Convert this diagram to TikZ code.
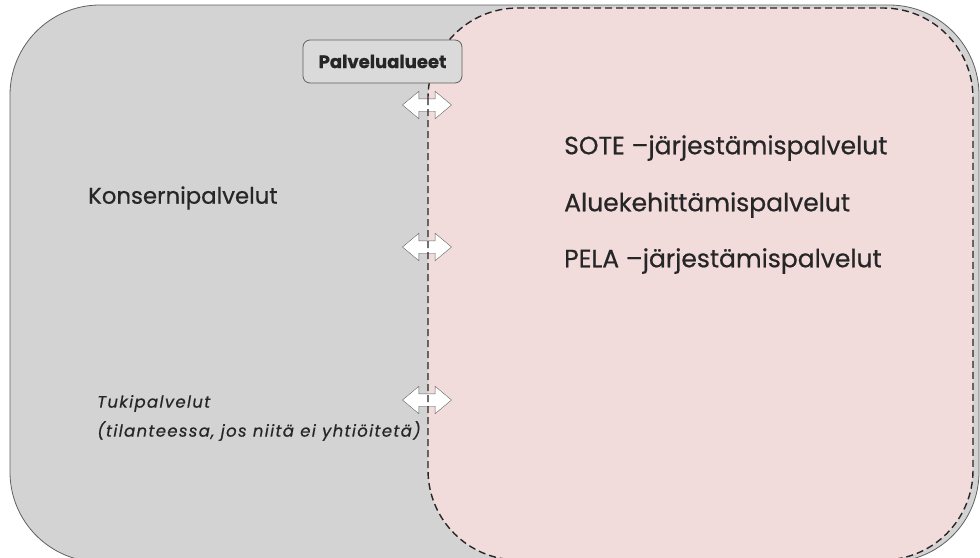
\documentclass[tikz,border=0pt]{standalone}
\usepackage{fontspec}
\setmainfont{Poppins}[FakeBold=0.6]
\usetikzlibrary{positioning,shapes.arrows}
\definecolor{konserngray}{HTML}{D3D3D3}
\definecolor{alueepink}{HTML}{F2DCDB}
\definecolor{edgegray}{HTML}{606060}
\definecolor{boxgray}{HTML}{DADADA}

\begin{document}
\begin{tikzpicture}[x=1pt,y=-1pt,
area/.style={
rounded corners=90pt
},
label/.style={
anchor=west,
inner sep=0pt,
text=black!85,
font=\fontsize{25}{30}\selectfont
},
swap/.style={
double arrow,
draw=edgegray,
fill=white,
thin,
inner xsep=0pt,
inner ysep=6pt,
minimum width=27pt,
minimum height=49pt,
double arrow head extend=7.5pt,
double arrow tip angle=80
},
]
\useasboundingbox (0,0) rectangle (980,557);
\clip (0,0) rectangle (980,557);
% the two areas
\draw[area,fill=konserngray,draw=edgegray,line width=0.8pt] (10,5) rectangle (979,562);
\fill[area,alueepink] (428,8) rectangle (973,560);
% arrows between the areas
\node (swap1) [swap] at (427,105) {};
\node (swap2) [swap] at (427,247) {};
\node (swap3) [swap] at (427,400) {};
\draw[area,dash pattern=on 7pt off 4pt,line width=1.4pt,draw=black!85] (428,8) rectangle (973,560);
% labels
\node (konserni) [label,font=\fontsize{22.8}{27}\selectfont] at (88,198) {Konsernipalvelut};
\node (sote) [label] at (564,148) {SOTE –järjestämispalvelut};
\node (aluekeh) [label] at (564,205) {Aluekehittämispalvelut};
\node (pela) [label] at (564,261) {PELA –järjestämispalvelut};
\node (tuki) [label,font=\fontsize{16.5}{29}\selectfont\itshape\addfontfeature{LetterSpace=8},align=left] at (97,418) {Tukipalvelut\\(tilanteessa, jos niitä ei yhtiöitetä)};
% palvelualueet box
\node (palvelu) [draw=edgegray,fill=boxgray,line width=0.8pt,rounded corners=7pt,minimum width=159pt,minimum height=43pt,text=black!85,font=\fontsize{18}{20}\selectfont\bfseries] at (382.5,61.5) {Palvelualueet};
\end{tikzpicture}
\end{document}
